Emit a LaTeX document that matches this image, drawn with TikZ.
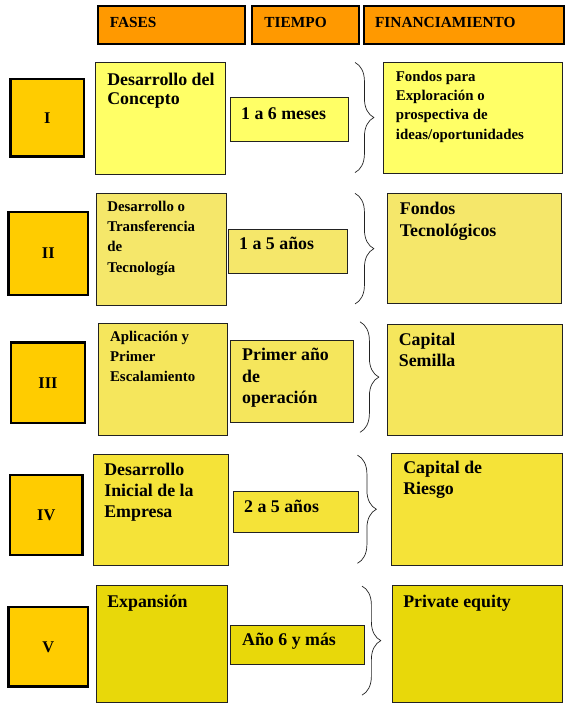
\documentclass[tikz,border=0pt]{standalone}
\usepackage{fontspec}
\setmainfont{Liberation Serif}
\usetikzlibrary{decorations.pathreplacing}
\definecolor{hdr}{HTML}{FF9900}
\definecolor{gold}{HTML}{FFCC00}
\definecolor{yA}{HTML}{FFFF66}
\definecolor{yB}{HTML}{F5E76A}
\definecolor{yC}{HTML}{F5E65C}
\definecolor{yD}{HTML}{F5E338}
\definecolor{yE}{HTML}{E8D80A}
\definecolor{edge}{HTML}{222222}
\newcommand{\txtlines}[1]{\begin{tabular}[t]{@{}l@{}}#1\end{tabular}}
\begin{document}
\begin{tikzpicture}[x=1pt,y=-1pt,
  hbox/.style={draw=black, line width=2pt, fill=hdr, anchor=north west, inner sep=0},
  rbox/.style={draw=black, line width=2.4pt, fill=gold, anchor=north west, inner sep=0},
  cbox/.style={draw=edge, line width=0.9pt, anchor=north west, inner sep=0},
  tbox/.style={draw=edge, line width=1.3pt, anchor=north west, inner sep=0},
  big/.style={anchor=base west, inner sep=0, font=\bfseries\fontsize{18}{21.3}\selectfont},
  small/.style={anchor=base west, inner sep=0, font=\bfseries\fontsize{15}{20.2}\selectfont},
  head/.style={anchor=base west, inner sep=0, font=\bfseries\fontsize{15.5}{17}\selectfont},
  rom/.style={inner sep=0, font=\bfseries\fontsize{16.5}{18}\selectfont},
  brc/.style={draw=edge, line width=0.7pt, decorate, decoration={brace, amplitude=19pt}}
]
\path[fill=white] (0,0) rectangle (564,703);
% header
\node[hbox, minimum width=148pt, minimum height=38pt] (hf) at (98,5) {};
\node[hbox, minimum width=108pt, minimum height=38pt] (ht) at (253,5) {};
\node[hbox, minimum width=202pt, minimum height=38pt] (hn) at (366,5) {};
\node[head] (hft) at (110.5,27.3) {FASES};
\node[head] (htt) at (266.5,27.3) {TIEMPO};
\node[head] (hnt) at (378,27.3) {FINANCIAMIENTO};

% Row I
\node[rbox, minimum width=74pt, minimum height=78pt] (r1) at (9.5,78.5) {};
\node[rom] (r1t) at (r1.center) {I};
\node[cbox, fill=yA, minimum width=132pt, minimum height=113pt] (c1) at (95.3,62.7) {};
\node[big, font=\bfseries\fontsize{18}{19.8}\selectfont] (c1t) at (108,86) {\txtlines{Desarrollo del\\Concepto}};
\node[tbox, fill=yA, minimum width=118.5pt, minimum height=44pt] (t1) at (232,98) {};
\node[big] (t1t) at (243,121) {1 a 6 meses};
\node[cbox, fill=yA, minimum width=180pt, minimum height=111.5pt] (f1) at (386.7,62.7) {};
\node[small, font=\bfseries\fontsize{15}{19.6}\selectfont] (f1t) at (399,81.7) {\txtlines{Fondos para\\Exploración o\\prospectiva de\\ideas/oportunidades}};
\coordinate (b1a) at (358,63); \coordinate (b1b) at (358,174);
\draw[brc] (b1a) -- (b1b);

% Row II
\node[rbox, minimum width=80pt, minimum height=84pt] (r2) at (7.5,212.5) {};
\node[rom] (r2t) at (r2.center) {II};
\node[cbox, fill=yB, minimum width=131pt, minimum height=113.5pt] (c2) at (96.4,194.5) {};
\node[small] (c2t) at (108,213.7) {\txtlines{Desarrollo o\\Transferencia\\de\\Tecnología}};
\node[tbox, fill=yB, minimum width=120pt, minimum height=44pt] (t2) at (229.5,231) {};
\node[big] (t2t) at (241,251.7) {1 a 5 años};
\node[cbox, fill=yB, minimum width=176pt, minimum height=111pt] (f2) at (390,194.5) {};
\node[big] (f2t) at (403,216.7) {\txtlines{Fondos\\Tecnológicos}};
\coordinate (b2a) at (358,195); \coordinate (b2b) at (358,306.5);
\draw[brc] (b2a) -- (b2b);

% Row III
\node[rbox, minimum width=74.5pt, minimum height=81pt] (r3) at (10,344.3) {};
\node[rom] (r3t) at (r3.center) {III};
\node[cbox, fill=yC, minimum width=129.4pt, minimum height=112.5pt] (c3) at (99,325.8) {};
\node[small] (c3t) at (110.8,344.3) {\txtlines{Aplicación y\\Primer\\Escalamiento}};
\node[tbox, fill=yC, minimum width=124pt, minimum height=83pt] (t3) at (232,342.5) {};
\node[big] (t3t) at (244,364) {\txtlines{Primer año\\de\\operación}};
\node[cbox, fill=yC, minimum width=176pt, minimum height=111.5pt] (f3) at (390.3,326.7) {};
\node[big] (f3t) at (402,348.3) {\txtlines{Capital\\Semilla}};
\coordinate (b3a) at (363,324.5); \coordinate (b3b) at (363,436);
\draw[brc] (b3a) -- (b3b);

% Row IV
\node[rbox, minimum width=73pt, minimum height=81pt] (r4) at (9,477.5) {};
\node[rom] (r4t) at (r4.center) {IV};
\node[cbox, fill=yD, minimum width=136pt, minimum height=112pt] (c4) at (94.2,457.7) {};
\node[big] (c4t) at (105,479) {\txtlines{Desarrollo\\Inicial de la\\Empresa}};
\node[tbox, fill=yD, minimum width=126pt, minimum height=41pt] (t4) at (234.5,495) {};
\node[big] (t4t) at (246,516.7) {2 a 5 años};
\node[cbox, fill=yD, minimum width=173pt, minimum height=113pt] (f4) at (394,457) {};
\node[big] (f4t) at (406.5,477.3) {\txtlines{Capital de\\Riesgo}};
\coordinate (b4a) at (360.5,459); \coordinate (b4b) at (360.5,568);
\draw[brc] (b4a) -- (b4b);

% Row V
\node[rbox, minimum width=80.5pt, minimum height=80pt] (r5) at (7.3,611) {};
\node[rom] (r5t) at (r5.center) {V};
\node[cbox, fill=yE, minimum width=132pt, minimum height=118pt] (c5) at (96.4,590) {};
\node[big] (c5t) at (108,612.3) {Expansión};
\node[tbox, fill=yE, minimum width=135pt, minimum height=39.5pt] (t5) at (232,630) {};
\node[big] (t5t) at (244,651) {Año 6 y más};
\node[cbox, fill=yE, minimum width=171pt, minimum height=118pt] (f5) at (395.7,590) {};
\node[big] (f5t) at (406.5,612.3) {Private equity};
\coordinate (b5a) at (365,591); \coordinate (b5b) at (365,701);
\draw[brc] (b5a) -- (b5b);

\useasboundingbox (0,0) rectangle (564,703);
\end{tikzpicture}
\end{document}
